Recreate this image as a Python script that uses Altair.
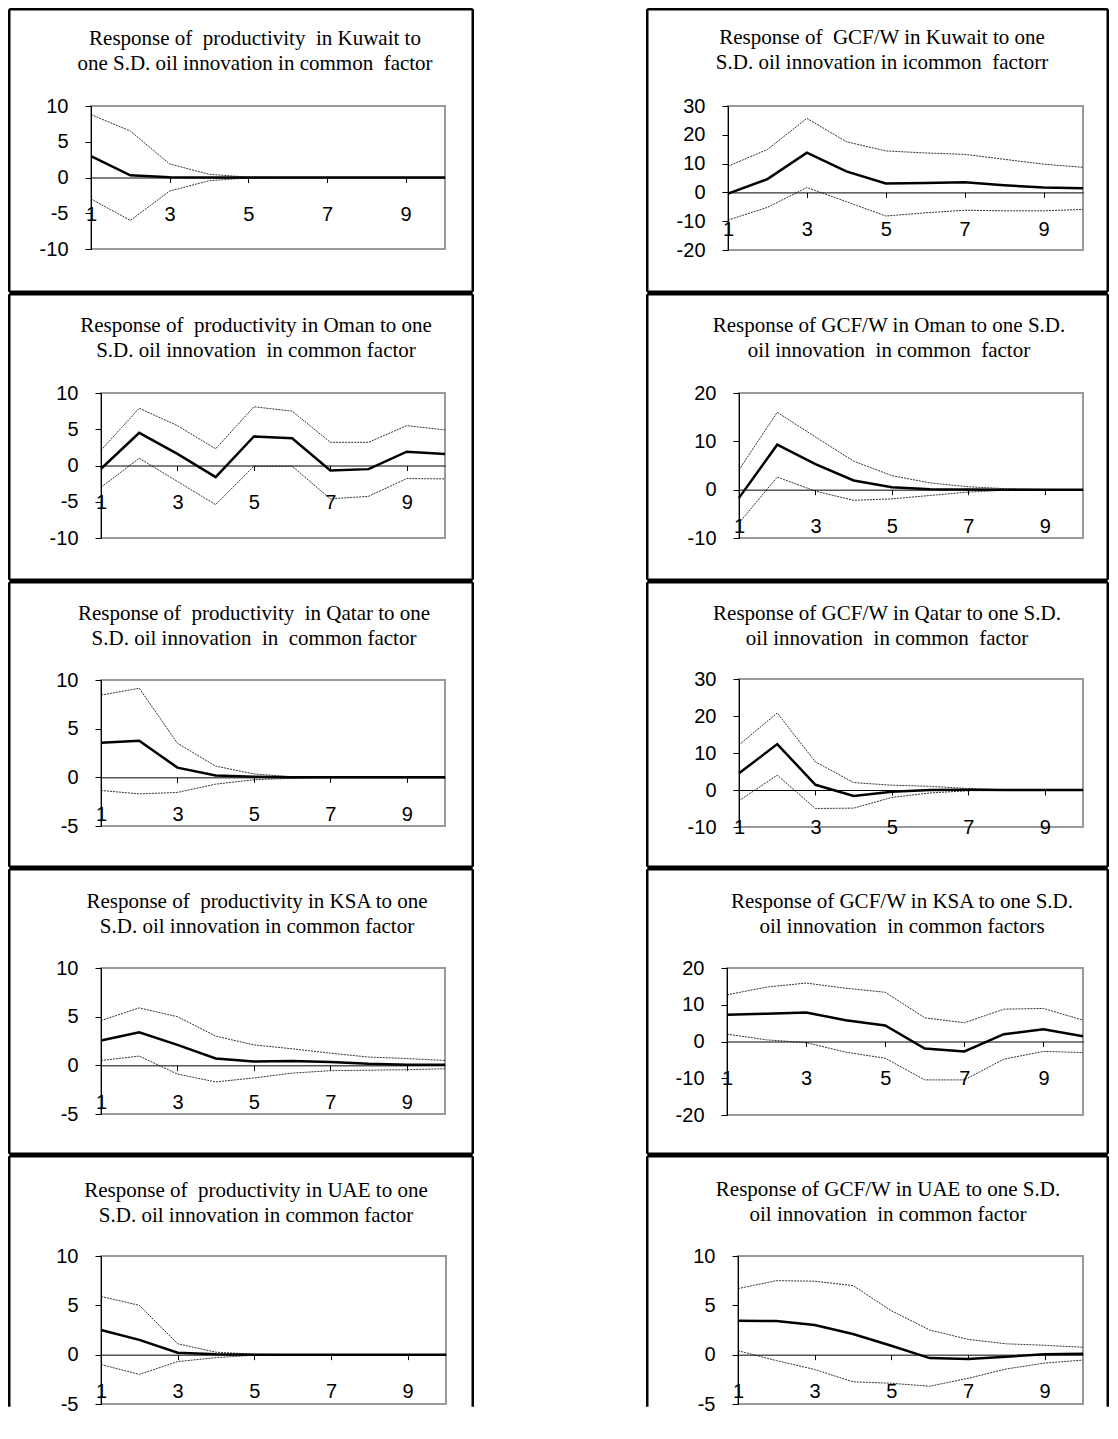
import altair as alt
import pandas as pd

periods = [1, 2, 3, 4, 5, 6, 7, 8, 9, 10]
x_tick_values = [1, 3, 5, 7, 9]

# ---- titles ----
title_kuw_prod = ["Response of  productivity  in Kuwait to", "one S.D. oil innovation in common  factor"]
title_kuw_gcf = ["Response of  GCF/W in Kuwait to one", "S.D. oil innovation in icommon  factorr"]
title_oman_prod = ["Response of  productivity in Oman to one", "S.D. oil innovation  in common factor"]
title_oman_gcf = ["Response of GCF/W in Oman to one S.D.", "oil innovation  in common  factor"]
title_qat_prod = ["Response of  productivity  in Qatar to one", "S.D. oil innovation  in  common factor"]
title_qat_gcf = ["Response of GCF/W in Qatar to one S.D.", "oil innovation  in common  factor"]
title_ksa_prod = ["Response of  productivity in KSA to one", "S.D. oil innovation in common factor"]
title_ksa_gcf = ["Response of GCF/W in KSA to one S.D.", "oil innovation  in common factors"]
title_uae_prod = ["Response of  productivity in UAE to one", "S.D. oil innovation in common factor"]
title_uae_gcf = ["Response of GCF/W in UAE to one S.D.", "oil innovation  in common factor"]

# ---- series (upper band, response, lower band) ----
kuw_prod_up = [8.8, 6.5, 1.9, 0.45, 0.05, 0, 0, 0, 0, 0]
kuw_prod_irf = [3.0, 0.3, 0.05, 0, 0, 0, 0, 0, 0, 0]
kuw_prod_lo = [-3.0, -6.0, -1.9, -0.45, -0.05, 0, 0, 0, 0, 0]

kuw_gcf_up = [9.1, 14.9, 25.7, 17.6, 14.4, 13.7, 13.2, 11.5, 9.8, 8.7]
kuw_gcf_irf = [-0.4, 4.6, 13.8, 7.3, 3.1, 3.3, 3.5, 2.5, 1.7, 1.4]
kuw_gcf_lo = [-9.6, -5.2, 1.7, -3.2, -8.2, -7.1, -6.2, -6.4, -6.4, -5.9]

oman_prod_up = [2.1, 7.9, 5.5, 2.3, 8.1, 7.5, 3.2, 3.2, 5.5, 4.9]
oman_prod_irf = [-0.45, 4.5, 1.6, -1.6, 4.0, 3.75, -0.7, -0.5, 1.9, 1.6]
oman_prod_lo = [-3.0, 1.0, -2.2, -5.4, -0.1, -0.1, -4.6, -4.25, -1.8, -1.85]

oman_gcf_up = [4.1, 16.0, 10.9, 5.9, 2.9, 1.4, 0.6, 0.2, 0.05, 0]
oman_gcf_irf = [-1.7, 9.3, 5.3, 1.9, 0.5, 0.1, 0.05, 0, 0, 0]
oman_gcf_lo = [-6.9, 2.6, -0.3, -2.2, -1.9, -1.2, -0.5, -0.1, 0, 0]

qat_prod_up = [8.45, 9.15, 3.5, 1.15, 0.35, 0.05, 0, 0, 0, 0]
qat_prod_irf = [3.55, 3.75, 1.0, 0.2, 0.05, 0, 0, 0, 0, 0]
qat_prod_lo = [-1.35, -1.7, -1.55, -0.7, -0.25, -0.1, 0, 0, 0, 0]

qat_gcf_up = [12.2, 20.8, 7.6, 2.0, 1.3, 1.0, 0.4, 0.05, 0, 0]
qat_gcf_irf = [4.5, 12.4, 1.4, -1.6, -0.5, 0, 0.1, 0, 0, 0]
qat_gcf_lo = [-2.9, 4.0, -5.0, -4.9, -2.0, -0.8, -0.2, 0, 0, 0]

ksa_prod_up = [4.6, 5.9, 5.0, 3.0, 2.1, 1.7, 1.25, 0.85, 0.7, 0.5]
ksa_prod_irf = [2.55, 3.4, 2.1, 0.7, 0.4, 0.45, 0.35, 0.15, 0.05, 0.05]
ksa_prod_lo = [0.5, 0.95, -0.9, -1.7, -1.3, -0.8, -0.55, -0.5, -0.45, -0.35]

ksa_gcf_up = [12.7, 14.8, 15.9, 14.5, 13.4, 6.45, 5.1, 8.8, 9.0, 5.8]
ksa_gcf_irf = [7.3, 7.55, 7.9, 5.8, 4.35, -1.9, -2.7, 2.0, 3.3, 1.45]
ksa_gcf_lo = [2.0, 0.45, -0.3, -2.9, -4.55, -10.45, -10.45, -4.8, -2.7, -3.0]

uae_prod_up = [5.9, 5.0, 1.1, 0.25, 0.05, 0, 0, 0, 0, 0]
uae_prod_irf = [2.5, 1.5, 0.2, 0.05, 0, 0, 0, 0, 0, 0]
uae_prod_lo = [-1.0, -2.0, -0.7, -0.3, -0.05, 0, 0, 0, 0, 0]

uae_gcf_up = [6.7, 7.5, 7.45, 7.0, 4.45, 2.5, 1.55, 1.1, 0.95, 0.75]
uae_gcf_irf = [3.45, 3.4, 3.0, 2.1, 0.9, -0.35, -0.45, -0.2, 0.05, 0.1]
uae_gcf_lo = [0.4, -0.6, -1.5, -2.75, -2.9, -3.2, -2.4, -1.45, -0.85, -0.55]

# ---- layout geometry (page pixels) ----
COL_LEFT = [8, 646]
COL_WIDTH = [466, 463]
ROW_TOP = [8, 293, 581, 868, 1155]
ROW_HEIGHT = [285, 288, 287, 287, 253]
COL_SPACING = COL_LEFT[1] - COL_LEFT[0] - COL_WIDTH[0]

TITLE_FONT = "Liberation Serif"
AXIS_FONT = "Liberation Sans"
EDGE = 2.5


def panel(up, irf, lo, title, ydom, yticks, plot, tline, col, row):
    bx, by = COL_LEFT[col], ROW_TOP[row]
    W, H = COL_WIDTH[col], ROW_HEIGHT[row]
    L, T, R, B = plot
    L, R, T, B = L - bx, R - bx, T - by, B - by
    tx, ty = tline[0] - bx, tline[1] - by
    ymin, ymax = ydom
    df = pd.DataFrame({
        "period": periods * 3,
        "value": up + irf + lo,
        "series": ["upper"] * 10 + ["irf"] * 10 + ["lower"] * 10,
    })
    zero_px = B - (B - T) * (0 - ymin) / (ymax - ymin)
    x = alt.X(
        "period:Q",
        scale=alt.Scale(domain=[1, 10], range=[L, R], nice=False, zero=False),
        axis=alt.Axis(
            values=x_tick_values, offset=-(H - zero_px), title=None, grid=False,
            tickSize=5, tickColor="black", domainColor="black", domainWidth=1,
            labelPadding=22, labelFont=AXIS_FONT, labelFontSize=20,
            labelColor="black", labelFlush=False, labelOverlap=False,
            labelExpr="datum.value + ''", zindex=1,
        ),
    )
    y = alt.Y(
        "value:Q",
        scale=alt.Scale(domain=[ymin, ymax], range=[B, T], nice=False, zero=False),
        axis=alt.Axis(
            values=yticks, offset=-L, title=None, grid=False,
            tickSize=6, tickColor="black", domainColor="black", domainWidth=1,
            labelPadding=17, labelFont=AXIS_FONT, labelFontSize=20,
            labelColor="black", labelOverlap=False,
            labelExpr="datum.value + ''", zindex=1,
        ),
    )
    plot_frame = alt.Chart(pd.DataFrame({
        "period": [1], "period_end": [10], "value": [ymin], "value_end": [ymax]
    })).mark_rect(fillOpacity=0, stroke="#9a9a9a", strokeWidth=2).encode(
        x=x, x2="period_end:Q", y=y, y2="value_end:Q"
    )
    base = alt.Chart(df)
    bands = base.transform_filter("datum.series != 'irf'").mark_line(
        color="#333333", strokeWidth=1, strokeDash=[2, 1]
    ).encode(x=x, y=y, detail="series:N")
    main = base.transform_filter("datum.series == 'irf'").mark_line(
        color="black", strokeWidth=2.5
    ).encode(x=x, y=y)

    one = alt.Data(values=[{"k": 1}])
    h = EDGE / 2
    last = row == len(ROW_TOP) - 1
    ybot = H - h
    edges = [
        alt.Chart(one).mark_rule(color="black", strokeWidth=EDGE).encode(
            x=alt.value(h), x2=alt.value(W - h), y=alt.value(h)),
        alt.Chart(one).mark_rule(color="black", strokeWidth=EDGE).encode(
            x=alt.value(h), y=alt.value(h), y2=alt.value(ybot)),
        alt.Chart(one).mark_rule(color="black", strokeWidth=EDGE).encode(
            x=alt.value(W - h), y=alt.value(h), y2=alt.value(ybot)),
    ]
    if not last:
        edges.append(alt.Chart(one).mark_rule(color="black", strokeWidth=EDGE).encode(
            x=alt.value(h), x2=alt.value(W - h), y=alt.value(ybot)))
    ttl = alt.Chart(one).mark_text(
        font=TITLE_FONT, fontSize=21, lineHeight=25, align="center",
        baseline="middle", color="black",
    ).encode(
        x=alt.value(tx), y=alt.value(ty),
        text=alt.value([s.replace("  ", " \u00a0") for s in title]),
    )
    return alt.layer(plot_frame, bands, main, *edges, ttl).properties(width=W, height=H)


left_col = alt.vconcat(
    panel(kuw_prod_up, kuw_prod_irf, kuw_prod_lo, title_kuw_prod, (-10, 10), [-10, -5, 0, 5, 10],
          (91, 106, 445, 249), (255, 39), 0, 0),
    panel(oman_prod_up, oman_prod_irf, oman_prod_lo, title_oman_prod, (-10, 10), [-10, -5, 0, 5, 10],
          (101, 393, 445, 538), (256, 326), 0, 1),
    panel(qat_prod_up, qat_prod_irf, qat_prod_lo, title_qat_prod, (-5, 10), [-5, 0, 5, 10],
          (101, 680, 445, 826), (254, 614), 0, 2),
    panel(ksa_prod_up, ksa_prod_irf, ksa_prod_lo, title_ksa_prod, (-5, 10), [-5, 0, 5, 10],
          (101, 968, 445, 1114), (257, 902), 0, 3),
    panel(uae_prod_up, uae_prod_irf, uae_prod_lo, title_uae_prod, (-5, 10), [-5, 0, 5, 10],
          (101, 1256, 446, 1404), (256, 1191), 0, 4),
    spacing=0,
)

right_col = alt.vconcat(
    panel(kuw_gcf_up, kuw_gcf_irf, kuw_gcf_lo, title_kuw_gcf, (-20, 30), [-20, -10, 0, 10, 20, 30],
          (728, 106, 1083, 250), (882, 38), 1, 0),
    panel(oman_gcf_up, oman_gcf_irf, oman_gcf_lo, title_oman_gcf, (-10, 20), [-10, 0, 10, 20],
          (739, 393, 1083, 538), (889, 326), 1, 1),
    panel(qat_gcf_up, qat_gcf_irf, qat_gcf_lo, title_qat_gcf, (-10, 30), [-10, 0, 10, 20, 30],
          (739, 679, 1083, 827), (887, 614), 1, 2),
    panel(ksa_gcf_up, ksa_gcf_irf, ksa_gcf_lo, title_ksa_gcf, (-20, 20), [-20, -10, 0, 10, 20],
          (727, 968, 1083, 1115), (902, 902), 1, 3),
    panel(uae_gcf_up, uae_gcf_irf, uae_gcf_lo, title_uae_gcf, (-5, 10), [-5, 0, 5, 10],
          (738, 1256, 1083, 1404), (888, 1190), 1, 4),
    spacing=0,
)

chart = alt.hconcat(left_col, right_col, spacing=COL_SPACING).properties(
    padding=0, background="white"
).configure_view(
    strokeWidth=0
)

chart.save("out.html", embed_options={"renderer": "svg", "actions": False})
